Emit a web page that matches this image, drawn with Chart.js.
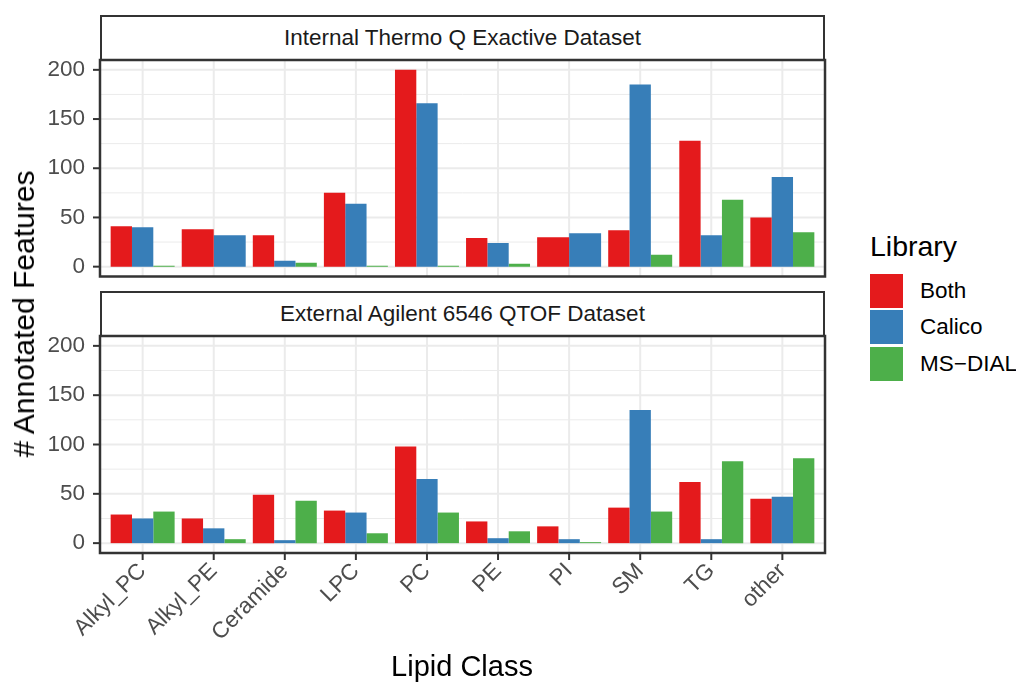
<html lang="en">
<head>
    <meta charset="UTF-8">
    <title>Annotated Features by Lipid Class</title>
    <script src="https://cdn.jsdelivr.net/npm/chart.js"></script>
    <style>
        body {
            margin: 0;
            width: 1016px;
            height: 683px;
            background: white;
            position: relative;
            overflow: hidden;
            font-family: "Liberation Sans", Arial, sans-serif;
        }
        canvas {
            position: absolute;
            left: 0;
        }
        #topChart { top: 50px; }
        #bottomChart { top: 326px; }
        .strip {
            position: absolute;
            left: 100px;
            width: 725px;
            height: 46px;
            box-sizing: border-box;
            border: 2px solid #333333;
            background: white;
            color: #1A1A1A;
            font-size: 22.5px;
            line-height: 42px;
            text-align: center;
            white-space: nowrap;
        }
        #yTitle {
            position: absolute;
            left: 24px;
            top: 314px;
            transform: translate(-50%, -50%) rotate(-90deg);
            white-space: nowrap;
            font-size: 30px;
            line-height: 32px;
            color: black;
        }
        #xTitle {
            position: absolute;
            left: 462px;
            top: 650px;
            transform: translateX(-50%);
            font-size: 29px;
            line-height: 32px;
            white-space: nowrap;
            color: black;
        }
        #legend {
            position: absolute;
            left: 870px;
            top: 0;
        }
        #legend .title {
            position: absolute;
            top: 230px;
            font-size: 28.5px;
            line-height: 32px;
            white-space: nowrap;
        }
        #legend .key {
            position: absolute;
            left: 0;
            width: 33px;
            height: 34px;
        }
        #legend .label {
            position: absolute;
            left: 50px;
            font-size: 22.5px;
            line-height: 34px;
            white-space: nowrap;
        }
    </style>
</head>
<body>
    <div class="strip" style="top: 15px;">Internal Thermo Q Exactive Dataset</div>
    <div class="strip" style="top: 291px;">External Agilent 6546 QTOF Dataset</div>
    <canvas id="topChart" width="840" height="240"></canvas>
    <canvas id="bottomChart" width="840" height="357"></canvas>
    <div id="yTitle"># Annotated Features</div>
    <div id="xTitle">Lipid Class</div>
    <div id="legend"></div>

    <script>
        const categories = ['Alkyl_PC', 'Alkyl_PE', 'Ceramide', 'LPC', 'PC', 'PE', 'PI', 'SM', 'TG', 'other'];
        const libraries = ['Both', 'Calico', 'MS\u2212DIAL'];
        const libraryColors = ['#E41A1C', '#377EB8', '#4DAF4A'];

        // Internal Thermo Q Exactive (null = class not found by that library)
        const thermoBoth = [41, 38, 32, 75, 200, 29, 30, 37, 128, 50];
        const thermoCalico = [40, 32, 6, 64, 166, 24, 34, 185, 32, 91];
        const thermoMsdial = [1, null, 4, 1, 1, 3, null, 12, 68, 35];

        // External Agilent 6546 QTOF
        const agilentBoth = [29, 25, 49, 33, 98, 22, 17, 36, 62, 45];
        const agilentCalico = [25, 15, 3, 31, 65, 5, 4, 135, 4, 47];
        const agilentMsdial = [32, 4, 43, 10, 31, 12, 1, 32, 83, 86];

        const fontFamily = '"Liberation Sans", Arial, sans-serif';

        function panelEdges(chart) {
            const x = chart.scales.x;
            const step = Math.abs(x.getPixelForValue(1) - x.getPixelForValue(0));
            return {
                left: x.getPixelForValue(0) - 0.6 * step,
                right: x.getPixelForValue(categories.length - 1) + 0.6 * step
            };
        }

        // panel background, grid, tick marks and border like ggplot theme_bw
        const panelPlugin = {
            id: 'panel',
            beforeDatasetsDraw(chart) {
                const ctx = chart.ctx;
                const x = chart.scales.x, y = chart.scales.y;
                const area = chart.chartArea;
                const {left, right} = panelEdges(chart);
                ctx.save();
                ctx.strokeStyle = '#EBEBEB';
                ctx.lineWidth = 1;
                for (let i = 0; i < y.ticks.length - 1; i++) {
                    const py = y.getPixelForValue((y.ticks[i].value + y.ticks[i + 1].value) / 2);
                    ctx.beginPath(); ctx.moveTo(left, py); ctx.lineTo(right, py); ctx.stroke();
                }
                ctx.lineWidth = 2;
                y.ticks.forEach(t => {
                    const py = y.getPixelForValue(t.value);
                    ctx.beginPath(); ctx.moveTo(left, py); ctx.lineTo(right, py); ctx.stroke();
                });
                categories.forEach((c, i) => {
                    const px = x.getPixelForValue(i);
                    ctx.beginPath(); ctx.moveTo(px, area.top); ctx.lineTo(px, area.bottom); ctx.stroke();
                });
                ctx.restore();
            },
            afterDatasetsDraw(chart, args, opts) {
                const ctx = chart.ctx;
                const x = chart.scales.x, y = chart.scales.y;
                const area = chart.chartArea;
                const {left, right} = panelEdges(chart);
                ctx.save();
                ctx.strokeStyle = '#333333';
                ctx.lineWidth = 2;
                y.ticks.forEach(t => {
                    const py = y.getPixelForValue(t.value);
                    ctx.beginPath(); ctx.moveTo(left - 7, py); ctx.lineTo(left, py); ctx.stroke();
                });
                if (opts.xTicks) {
                    categories.forEach((c, i) => {
                        const px = x.getPixelForValue(i);
                        ctx.beginPath(); ctx.moveTo(px, area.bottom); ctx.lineTo(px, area.bottom + 7); ctx.stroke();
                    });
                }
                ctx.lineWidth = 2.5;
                ctx.strokeRect(left, area.top, right - left, area.bottom - area.top);
                ctx.restore();
            }
        };

        function makePanel(canvasId, both, calico, msdial, showX, bottomPad) {
            const series = [both, calico, msdial];
            const datasets = series.map((vals, k) => ({
                label: libraries[k],
                data: vals,
                backgroundColor: libraryColors[k]
            }));

            const xScale = {
                type: 'category',
                offset: true,
                display: showX,
                grid: { display: false, drawTicks: false },
                border: { display: false },
                ticks: {
                    autoSkip: false,
                    minRotation: 45,
                    maxRotation: 45,
                    padding: 5,
                    color: '#4D4D4D',
                    font: { family: fontFamily, size: 22.5 }
                }
            };
            if (showX) xScale.afterFit = s => { s.height = 130; };

            return new Chart(document.getElementById(canvasId), {
                type: 'bar',
                data: { labels: categories, datasets: datasets },
                options: {
                    responsive: false,
                    animation: false,
                    events: [],
                    datasets: {
                        bar: { categoryPercentage: 0.9, barPercentage: 1, skipNull: true }
                    },
                    layout: { padding: { top: 10, right: 22.1, bottom: bottomPad, left: 0 } },
                    plugins: {
                        legend: { display: false },
                        tooltip: { enabled: false },
                        panel: { xTicks: showX }
                    },
                    scales: {
                        x: xScale,
                        y: {
                            min: -10,
                            max: 210,
                            grid: { display: false, drawTicks: false },
                            border: { display: false },
                            ticks: {
                                stepSize: 50,
                                includeBounds: false,
                                padding: 22,
                                color: '#4D4D4D',
                                font: { family: fontFamily, size: 22.5 }
                            },
                            afterFit: s => {
                                s.width = 107.1;
                                s.paddingTop = 0;
                                s.paddingBottom = 0;
                            }
                        }
                    }
                },
                plugins: [panelPlugin]
            });
        }

        makePanel('topChart', thermoBoth, thermoCalico, thermoMsdial, false, 13.5);
        makePanel('bottomChart', agilentBoth, agilentCalico, agilentMsdial, true, 0);

        const legend = document.getElementById('legend');
        let html = '<div class="title">Library</div>';
        libraries.forEach((name, k) => {
            const top = 274 + k * 36.3;
            html += '<div class="key" style="top:' + top + 'px;background:' + libraryColors[k] + '"></div>';
            html += '<div class="label" style="top:' + top + 'px">' + name + '</div>';
        });
        legend.innerHTML = html;
    </script>
</body>
</html>
